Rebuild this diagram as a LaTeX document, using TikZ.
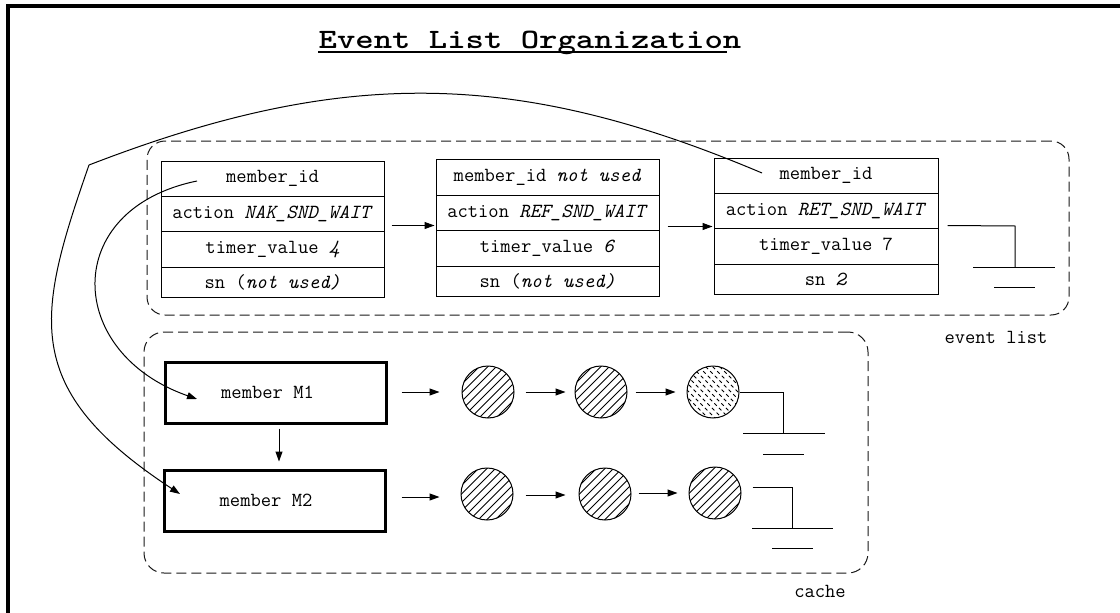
\documentclass[tikz,border=0pt]{standalone}
\usepackage{graphicx}
\usetikzlibrary{arrows.meta,calc}
\newcommand\cellfont{\ttfamily\fontsize{20}{22}\selectfont}
\newcommand\headfont{\ttfamily\bfseries\fontsize{28}{32}\selectfont}
\begin{document}
\begin{tikzpicture}[x=1pt,y=-1pt,
  cell/.style={draw,line width=1pt,inner sep=0pt,font=\cellfont},
  bone/.style={cell,minimum width=223pt},
  btwo/.style={cell,minimum width=223pt},
  bthree/.style={cell,minimum width=224pt},
  mbox/.style={draw,line width=3pt,inner sep=0pt,minimum width=221pt,minimum height=61pt,font=\cellfont},
  grp/.style={draw,line width=1pt,black!90,dash pattern=on 10pt off 5pt,rounded corners=18pt,inner sep=0pt},
  arr/.style={line width=1pt,-{Triangle[length=10pt,width=7pt]}},
  wire/.style={line width=1pt},
  lbl/.style={font=\cellfont,inner sep=0pt},
  circ/.style={circle,draw,line width=1pt,minimum size=52pt,inner sep=0pt},
  hatch/.style={circ,path picture={
     \foreach \i in {-68,-59.5,...,68}
       \draw[line width=0.8pt] ($(path picture bounding box.center)+(\i-30,30)$) -- ++(60,-60);}},
  speck/.style={circ,path picture={
     \foreach \i in {-66,-59,...,66}
       \draw[line width=0.8pt,dash pattern=on 3.5pt off 3pt] ($(path picture bounding box.center)+(\i-30,-30)$) -- ++(60,60);}}
]
\useasboundingbox (0,0) rectangle (1120,613);
\fill[white] (0,0) rectangle (1120,613);
\draw[line width=3.5pt] (8,613) -- (8,6) -- (1120,6);

% title
\node[font=\headfont,anchor=base,inner sep=0pt] (title) at (530,48) {\scalebox{1.25}[1]{Event List Organization}};
\draw[line width=2pt] ($(title.base west)+(0,4)$) -- ($(title.base east)+(-15,4)$);

% groups
\node[grp,minimum width=922pt,minimum height=174pt] (ev) at (608,228) {};
\node[lbl] (evl) at (996,337) {event list};
\node[grp,rounded corners=20pt,minimum width=724pt,minimum height=241pt] (cache) at (506,452.5) {};
\node[lbl] (cl) at (820,591) {cache};

% box 1
\node[bone,minimum height=35pt] (b1a) at (272.5,178.5) {member\_id};
\node[bone,minimum height=35pt] (b1b) at (272.5,213.5) {action \textit{NAK\_SND\_WAIT}};
\node[bone,minimum height=36pt] (b1c) at (272.5,249) {timer\_value \textit{4}};
\node[bone,minimum height=30pt] (b1d) at (272.5,282) {sn (\textit{not used)}};
% box 2
\node[btwo,minimum height=36pt] (b2a) at (547.5,177) {member\_id \textit{not used}};
\node[btwo,minimum height=35pt] (b2b) at (547.5,212.5) {action \textit{REF\_SND\_WAIT}};
\node[btwo,minimum height=36pt] (b2c) at (547.5,248) {timer\_value \textit{6}};
\node[btwo,minimum height=30pt] (b2d) at (547.5,281) {sn (\textit{not used)}};
% box 3
\node[bthree,minimum height=35pt] (b3a) at (826,175.5) {member\_id};
\node[bthree,minimum height=35pt] (b3b) at (826,210.5) {action \textit{RET\_SND\_WAIT}};
\node[bthree,minimum height=36pt] (b3c) at (826,246) {timer\_value 7};
\node[bthree,minimum height=30pt] (b3d) at (826,279) {sn \textit{2}};

\draw[arr] ($(b1c.north east)+(7,-5)$) -- ($(b1c.north east -| b2c.west)+(-1,-5)$);
\draw[arr] ($(b2c.north east)+(8,-3)$) -- ($(b2c.north east -| b3c.west)+(-1,-3)$);

% ground of event list
\coordinate (e0) at ($(b3c.north east)+(9,-2)$);
\coordinate (e1) at (1015,226);
\coordinate (e2) at (1015,267);
\draw[wire] (e0) -- (e1) -- (e2);
\draw[wire] (973,267) -- (1055,267);
\draw[wire] (994,287) -- (1035,287);

% members
\node[mbox] (m1) at (275.5,392.5) {member M1\hspace*{16pt}};
\node[mbox] (m2) at (274.5,500.5) {member M2\hspace*{17pt}};
\draw[arr] ($(m1.south)+(3.5,4)$) -- ($(m2.north)+(4.5,-7)$);

% circles row 1
\node[hatch] (c11) at (488,392) {};
\node[hatch] (c12) at (601,392) {};
\node[speck] (c13) at (713,392) {};
\draw[arr] ($(m1.east)+(14,-0.5)$) -- ($(c11.west)+(-22,0)$);
\draw[arr] ($(c11.east)+(11,0)$) -- ($(c12.west)+(-9,0)$);
\draw[arr] ($(c12.east)+(8,0)$) -- ($(c13.west)+(-11,0)$);
\coordinate (r1) at (783,392);
\coordinate (r2) at (783,433);
\draw[wire] (c13.east) -- (r1) -- (r2);
\draw[wire] (743,433) -- (825,433);
\draw[wire] (763,454) -- (804,454);

% circles row 2
\node[hatch] (c21) at (487,494) {};
\node[hatch] (c22) at (605,494) {};
\node[hatch] (c23) at (715,493) {};
\draw[arr] ($(m2.east)+(15,-3.5)$) -- ($(c21.west)+(-21,3)$);
\draw[arr] ($(c21.east)+(12,1)$) -- ($(c22.west)+(-13,1)$);
\draw[arr] ($(c22.east)+(7,-1)$) -- ($(c23.west)+(-11,0)$);
\coordinate (s0) at ($(c23.east)+(11,-6)$);
\coordinate (s1) at (792,487);
\coordinate (s2) at (792,528);
\draw[wire] (s0) -- (s1) -- (s2);
\draw[wire] (752,528) -- (833,528);
\draw[wire] (772,548) -- (813,548);

% long pointers
\coordinate (k) at (89,165);
\draw[arr] ($(b1a.center)+(-75.5,2.5)$) .. controls (60,209) and (65,353) .. ($(m1.center)+(-78.5,6.5)$);
\draw[wire] ($(b3a.center)+(-64,-2.5)$) .. controls (514,68) and (340,68) .. (k);
\draw[arr] (k) .. controls (36,317) and (20,389) .. ($(m2.center)+(-94.5,-6.5)$);
\end{tikzpicture}
\end{document}
